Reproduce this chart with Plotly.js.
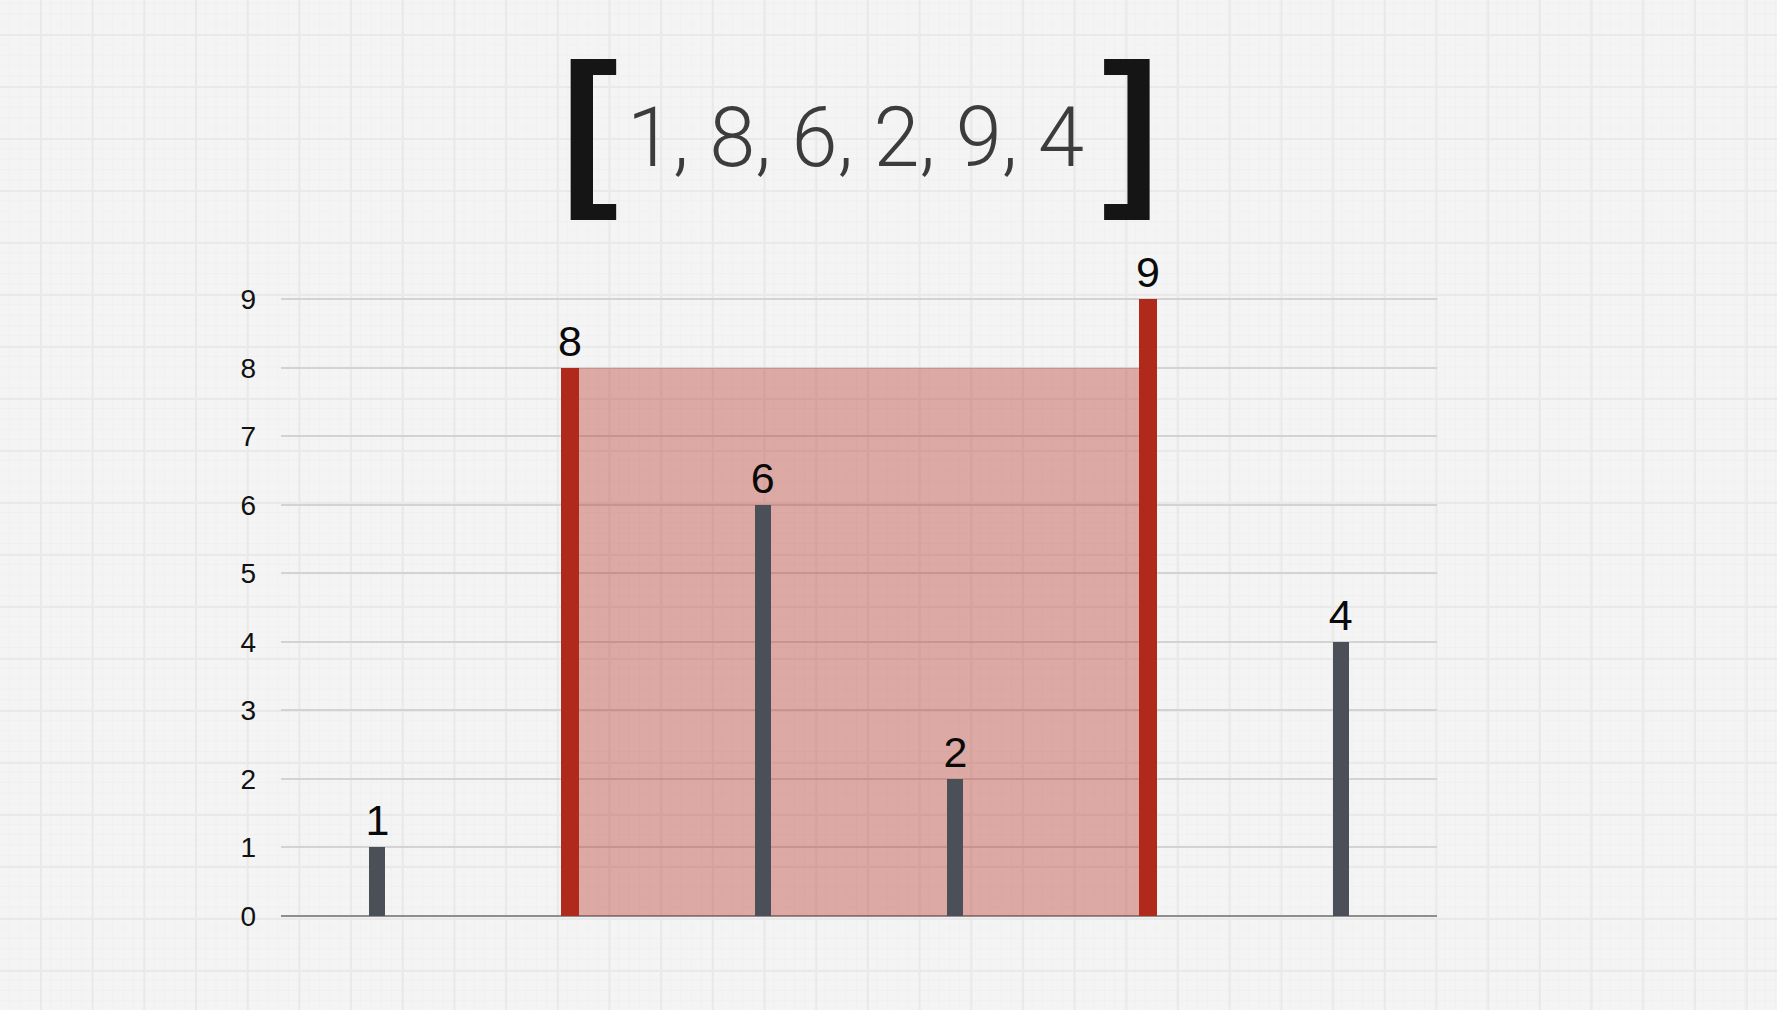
<!DOCTYPE html>
<html>
<head>
<meta charset="utf-8">
<script src="https://cdn.plot.ly/plotly-3.0.1.min.js"></script>
<style>
  html, body { margin: 0; padding: 0; }
  body {
    width: 1777px; height: 1010px; overflow: hidden;
    background-color: #f4f4f4;
    background-image:
      linear-gradient(to right, #e9e9e9 2px, transparent 2px),
      linear-gradient(to bottom, #e9e9e9 2px, transparent 2px),
      linear-gradient(to right, #f0f0f0 1px, transparent 1px),
      linear-gradient(to bottom, #f0f0f0 1px, transparent 1px);
    background-size: 51.7px 52px, 51.7px 52px, 10.34px 10.4px, 10.34px 10.4px;
    background-position: 40px 34px, 40px 34px, 40px 34px, 40px 34px;
  }
  #chart { width: 1777px; height: 1010px; }
</style>
</head>
<body>
<div id="chart"></div>
<script>
// ---- data ----
const heights = [1, 8, 6, 2, 9, 4];
const positions = [0, 1, 2, 3, 4, 5];
const leftIndex = 1;
const rightIndex = 4;
const yTicks = [0, 1, 2, 3, 4, 5, 6, 7, 8, 9];

// ---- styling ----
const RED = '#b02a1c';
const GREY = '#4b4f57';
const highlighted = positions.map(i => i === leftIndex || i === rightIndex);
const colors = highlighted.map(h => h ? RED : GREY);
const widths = highlighted.map(h => h ? 0.094 : 0.084);
const water = Math.min(heights[leftIndex], heights[rightIndex]);

const bars = {
  type: 'bar',
  x: positions,
  y: heights,
  width: widths,
  marker: { color: colors, line: { width: 0 } },
  text: heights.map(String),
  textposition: 'outside',
  constraintext: 'none',
  cliponaxis: false,
  textfont: { family: 'Liberation Sans, Arial, sans-serif', size: 43, color: '#0a0a0a' },
  hoverinfo: 'skip'
};

const layout = {
  width: 1777,
  height: 1010,
  margin: { l: 281, r: 340, t: 296, b: 94 },
  paper_bgcolor: 'rgba(0,0,0,0)',
  plot_bgcolor: 'rgba(0,0,0,0)',
  showlegend: false,
  bargap: 0,
  xaxis: {
    range: [-0.5, 5.5],
    showgrid: false,
    zeroline: false,
    showline: false,
    showticklabels: false,
    ticks: ''
  },
  yaxis: {
    range: [0, 9.05],
    tickvals: yTicks,
    ticktext: yTicks.map(String),
    showgrid: true,
    gridcolor: '#d3d3d3',
    gridwidth: 2,
    zeroline: true,
    zerolinecolor: '#8e8e8e',
    zerolinewidth: 2,
    showline: false,
    ticks: '',
    ticklabelstandoff: 24,
    tickfont: { family: 'Liberation Sans, Arial, sans-serif', size: 28, color: '#111111' }
  },
  shapes: [{
    type: 'rect',
    xref: 'x', yref: 'y',
    x0: positions[leftIndex], x1: positions[rightIndex],
    y0: 0, y1: water,
    fillcolor: 'rgba(178,40,30,0.37)',
    line: { width: 0 },
    layer: 'between'
  }],
  annotations: [
    {
      xref: 'paper', yref: 'paper',
      x: 0.2405, y: 1.2774, xanchor: 'left', yanchor: 'middle',
      text: '[', showarrow: false,
      font: { family: 'Liberation Sans, Arial, sans-serif', size: 172, color: '#151515', weight: 'bold' }
    },
    {
      xref: 'paper', yref: 'paper',
      x: 0.7614, y: 1.2774, xanchor: 'right', yanchor: 'middle',
      text: ']', showarrow: false,
      font: { family: 'Liberation Sans, Arial, sans-serif', size: 172, color: '#151515', weight: 'bold' }
    },
    {
      xref: 'paper', yref: 'paper',
      x: 0.4974, y: 1.2555, xanchor: 'center', yanchor: 'middle',
      text: heights.join(', '), showarrow: false,
      font: { family: 'Roboto, sans-serif', size: 83, color: '#3c3c3c', weight: 300 }
    }
  ]
};

Plotly.newPlot('chart', [bars], layout, { displayModeBar: false, staticPlot: true });
</script>
</body>
</html>
